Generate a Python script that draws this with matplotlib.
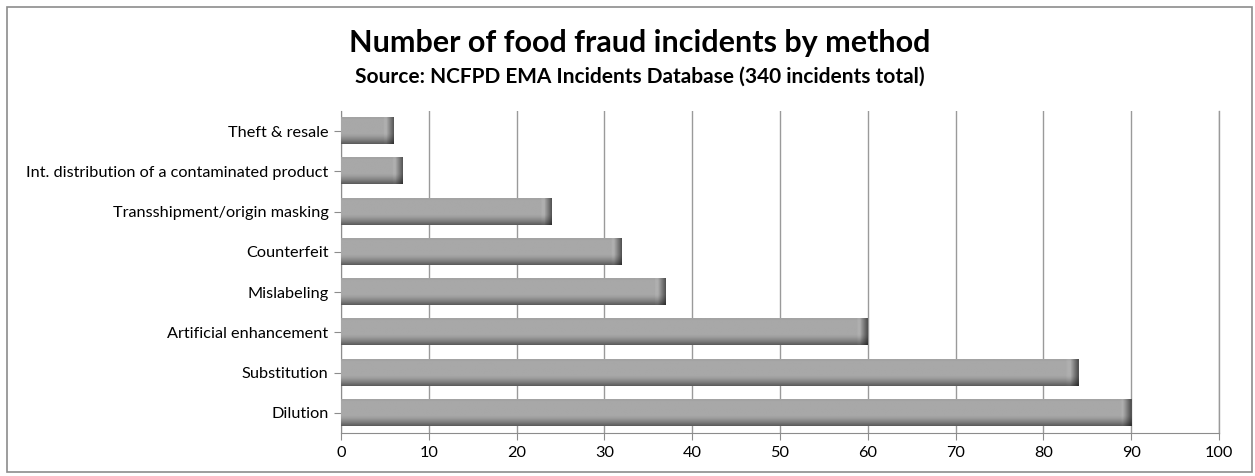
import numpy as np
import matplotlib
matplotlib.use("Agg")
import matplotlib.pyplot as plt
from matplotlib.patches import Rectangle

plt.rcParams['font.family'] = ['Lato', 'DejaVu Sans']

methods = ["Dilution", "Substitution", "Artificial enhancement", "Mislabeling",
           "Counterfeit", "Transshipment/origin masking",
           "Int. distribution of a contaminated product", "Theft & resale"]
counts = [90, 84, 60, 37, 32, 24, 7, 6]
xticks = list(range(0, 101, 10))

fig = plt.figure(figsize=(12.55, 4.76), dpi=100)
ax = fig.add_axes([0.2717, 0.0903, 0.6996, 0.6765])

# outer frame
fig.patches.append(Rectangle((7 / 1255, 4 / 476), 1245 / 1255, 465 / 476,
                             transform=fig.transFigure, fill=False,
                             edgecolor='#8c8c8c', lw=1.2))

bar_h = 0.65
px_per_unit = 878 / 100.0


def bar_image(v, nx=300, ny=40):
    t = np.linspace(0, 1, ny)[:, None]
    gv = np.where(t < 0.6, 0.66 - 0.02 * (t < 0.06), 0.66 - 0.30 * ((t - 0.6) / 0.4) ** 1.4)
    dpx = (1 - np.linspace(0, 1, nx)[None, :]) * v * px_per_unit
    gh = np.where(dpx > 10, 1.0, np.where(dpx > 7, 1.04, 0.5 + 0.5 * dpx / 7))
    g = np.clip(gv * gh, 0, 1)
    return g


for i, v in enumerate(counts):
    ax.imshow(bar_image(v), cmap='gray', vmin=0, vmax=1, aspect='auto',
              extent=(0, v, i - bar_h / 2, i + bar_h / 2), origin='upper',
              zorder=3, interpolation='bilinear')

ax.set_xlim(0, 100)
ax.set_ylim(-0.5, len(methods) - 0.5)
ax.set_xticks(xticks)
ax.set_yticks(range(len(methods)))
ax.set_yticklabels(methods)
ax.grid(axis='x', color='#9a9a9a', lw=1, zorder=0)
ax.axvline(100, color='#9a9a9a', lw=1, clip_on=False, zorder=0)
ax.set_axisbelow(True)
for s in ['top', 'right']:
    ax.spines[s].set_visible(False)
for s in ['left', 'bottom']:
    ax.spines[s].set_color('#8c8c8c')
ax.tick_params(axis='both', colors='#8c8c8c', length=5, labelcolor='black',
               labelsize=11.7, pad=4)

fig.text(0.51, 0.91, "Number of food fraud incidents by method", ha='center',
         va='center', fontsize=22, fontweight='bold')
fig.text(0.51, 0.84, "Source: NCFPD EMA Incidents Database (340 incidents total)",
         ha='center', va='center', fontsize=15, fontweight='bold')

fig.savefig("out.png", dpi=100)
